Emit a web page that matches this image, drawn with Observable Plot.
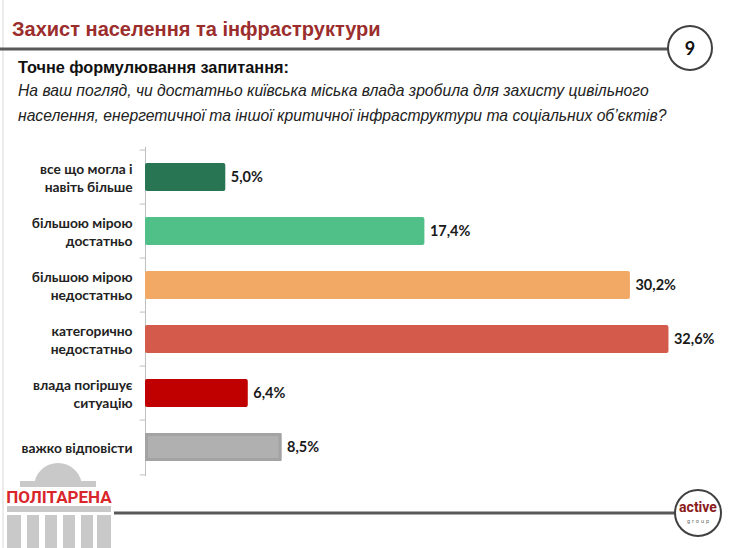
<!DOCTYPE html>
<html><head><meta charset="utf-8">
<script src="https://cdn.jsdelivr.net/npm/d3@7"></script>
<script src="https://cdn.jsdelivr.net/npm/@observablehq/plot@0.6"></script>
<style>
body{margin:0;background:#fff;}
#page{position:relative;width:740px;height:548px;overflow:hidden;background:#fff;font-family:"Liberation Sans",Arial,sans-serif;}
#deco{position:absolute;left:0;top:0;}
#title{position:absolute;left:12px;top:18px;font-size:20px;font-weight:bold;color:#9b2d2d;white-space:nowrap;}
#sub{position:absolute;left:18px;top:58px;font-size:16.3px;font-weight:bold;color:#111;white-space:nowrap;}
#q{position:absolute;left:18px;top:78px;font-size:15.7px;font-style:italic;color:#222;line-height:25px;white-space:nowrap;}
#chart{position:absolute;left:0;top:140px;}
</style></head><body>
<div id="page">
<svg id="deco" width="740" height="548">
  <line x1="3" y1="0" x2="3" y2="548" stroke="#d9d9d9" stroke-width="1"/>
  <line x1="0" y1="49" x2="668" y2="49" stroke="#595959" stroke-width="3"/>
  <circle cx="690" cy="48" r="22" fill="#fff" stroke="#404040" stroke-width="2"/>
  <text x="690" y="55" text-anchor="middle" font-size="18" font-weight="bold" font-family="Lato, sans-serif" fill="#111">9</text>
  <line x1="114" y1="513" x2="676" y2="513" stroke="#595959" stroke-width="3"/>
  <circle cx="698" cy="513" r="23" fill="#fff" stroke="#404040" stroke-width="2"/>
  <text x="698" y="512" text-anchor="middle" font-size="14" font-weight="bold" font-family="'Liberation Sans Narrow','Roboto',sans-serif" fill="#8b1a1a">active</text>
  <text x="699" y="523" text-anchor="middle" font-size="5.5" letter-spacing="2" font-family="Roboto, sans-serif" fill="#666">group</text>
  <g fill="#c9c9c9">
    <path d="M34,487 A24,24 0 0 1 82,487 Z"/>
    <rect x="20" y="481" width="76" height="6"/>
    <rect x="7" y="506" width="104" height="6"/>
    <rect x="7" y="515" width="14" height="33"/>
    <rect x="27" y="515" width="12" height="33"/>
    <rect x="45" y="515" width="12" height="33"/>
    <rect x="63" y="515" width="12" height="33"/>
    <rect x="81" y="515" width="12" height="33"/>
    <rect x="97" y="515" width="14" height="33"/>
  </g>
  <text x="59" y="503" text-anchor="middle" font-size="17" font-weight="bold" font-family="'Liberation Sans Narrow','Roboto',sans-serif" fill="#d8262b">ПОЛІТАРЕНА</text>
</svg>
<div id="title">Захист населення та інфраструктури</div>
<div id="sub">Точне формулювання запитання:</div>
<div id="q">На ваш погляд, чи достатньо київська міська влада зробила для захисту цивільного<br>населення, енергетичної та іншої критичної інфраструктури та соціальних об’єктів?</div>
<div id="chart"></div>
</div>
<script>
const categories = [
  "все що могла і\nнавіть більше",
  "більшою мірою\nдостатньо",
  "більшою мірою\nнедостатньо",
  "категорично\nнедостатньо",
  "влада погіршує\nситуацію",
  "важко відповісти"
];
const values = [5.0, 17.4, 30.2, 32.6, 6.4, 8.5];
const barColors = ["#287553", "#50bf88", "#f2a966", "#d45b4b", "#c00000", "#b0b0b0"];

const data = categories.map((c, i) => ({category: c, value: values[i]}));
const fmt = v => v.toFixed(1).replace(".", ",") + "%";

const W = 740, H = 341, mt = 7, mb = 5;
const step = (H - mt - mb) / categories.length;

const chart = Plot.plot({
  width: W, height: H,
  marginLeft: 145, marginRight: 33, marginTop: mt, marginBottom: mb,
  style: {fontFamily: "Lato, 'Open Sans', sans-serif", background: "transparent"},
  x: {domain: [0, 35], axis: null},
  y: {domain: categories, paddingInner: 0.49, paddingOuter: 0.245, axis: null},
  color: {domain: categories, range: barColors},
  marks: [
    Plot.ruleX([0], {stroke: "#bfbfbf"}),
    Plot.ruleY(categories, {y: d => d, x1: -0.33, x2: 0, dy: -step / 2, stroke: "#bfbfbf"}),
    Plot.ruleY(categories.slice(-1), {y: d => d, x1: -0.33, x2: 0, dy: step / 2, stroke: "#bfbfbf"}),
    Plot.barX(data, {x: "value", y: "category", fill: "category", rx: 2}),
    Plot.barX(data.slice(-1), {x: "value", y: "category", fill: "none", stroke: "#a3a3a3", strokeWidth: 3, insetTop: 1.5, insetBottom: 1.5, insetLeft: 1.5, insetRight: 1.5}),
    Plot.text(data, {x: "value", y: "category", text: d => fmt(d.value), textAnchor: "start", dx: 5, fontWeight: "bold", fontSize: 14.5, fill: "#1a1a1a"}),
    Plot.text(data, {x: 0, y: "category", text: "category", textAnchor: "end", dx: -13, fontWeight: "bold", fontSize: 13.8, lineHeight: 1.28, fill: "#222"})
  ]
});
document.getElementById("chart").appendChild(chart);
</script>
</body></html>
